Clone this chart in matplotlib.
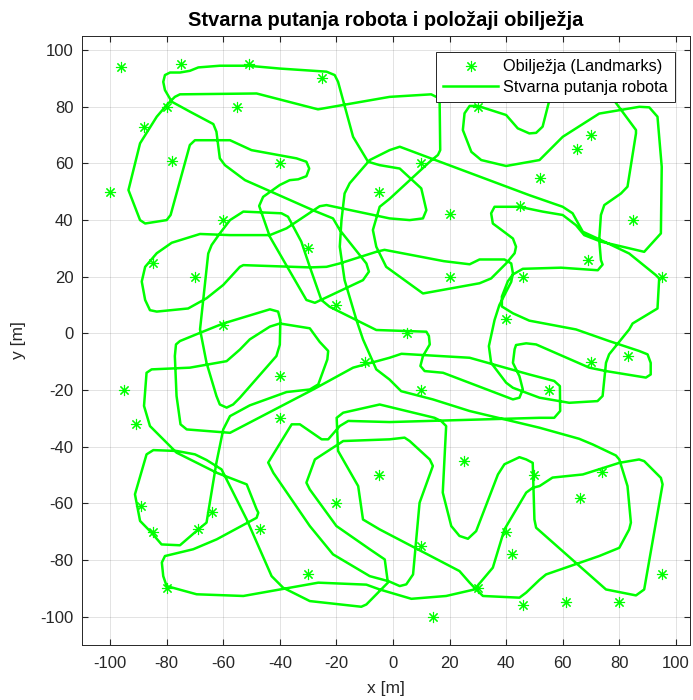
import matplotlib.pyplot as plt

plt.rcParams['font.family'] = ['Liberation Sans', 'DejaVu Sans']
plt.rcParams['axes.unicode_minus'] = False

# Landmarks (obilježja) [m]
landmark_x = [-96, -75, -51, -25, -80, -55, -88, -78, -40, -100, -60, -30, -85, -70, -20, -60,
              30, 70, 65, 10, 52, -5, 45, 20, 85, 69, 20, 46, 95, 40, 5,
              -10, -95, -40, -91, -40, -5, -89, -20, -64, -85, -69, -47, -30, -80,
              83, 70, 10, 55, 25, 50, 74, 66, 40, 10, 42, 95, 30, 46, 61, 80, 14]
landmark_y = [94, 95, 95, 90, 80, 80, 73, 61, 60, 50, 40, 30, 25, 20, 10, 3,
              80, 70, 65, 60, 55, 50, 45, 42, 40, 26, 20, 20, 20, 5, 0,
              -10, -20, -15, -32, -30, -50, -61, -60, -63, -70, -69, -69, -85, -90,
              -8, -10, -20, -20, -45, -50, -49, -58, -70, -75, -78, -85, -90, -96, -95, -95, -100]

# True robot path in travel order (x, y) [m]
path_north = [(57, 91), (55.3, 82.4), (52.9, 73), (50.6, 70.8), (48.2, 70.6), (44.1, 72.4), (40, 77.1),
              (30, 80.3), (27.1, 80.3), (25.3, 77.7), (24.7, 71.8), (27.7, 64.1), (31.2, 61.2), (40, 59.1),
              (51.8, 61.2), (60, 69.4), (72.9, 77.6), (87.1, 80), (90.6, 79.8), (93.5, 76.5), (95, 58.8),
              (94.7, 35.3), (88.8, 28.8), (73.5, 32.4), (67.6, 34.7), (64.7, 38.2), (60, 41.8), (52.9, 43),
              (44.7, 44.7), (35.9, 44.7), (34.7, 42.4), (35.3, 38.8), (37.6, 37.1), (42.4, 33.5),
              (43.5, 30.6), (43, 28.3), (40, 24.7), (34.7, 19.4), (30.6, 17.7), (10.6, 14.1), (-2.4, 23.5),
              (-5.9, 30.6), (-7.1, 36.5), (-4.7, 44.7), (-1.2, 47.5), (13, 60.6), (15.9, 63), (16.7, 64.7),
              (16.5, 81.2), (15.9, 83.2), (13.5, 84.4), (-1.2, 83.5), (-26.5, 79.1), (-48.2, 84.7)]

path_west = [(-75.3, 84.4), (-77.1, 83.5), (-80, 80.6), (-83.5, 76.5), (-89.4, 67.1), (-93.5, 50.6),
             (-91.2, 44.7), (-89.4, 40), (-87.6, 38.8), (-80, 40), (-78.6, 41.8), (-71.8, 66.5), (-70, 68.2),
             (-57.6, 68.2), (-50, 64.7), (-34.1, 61.8), (-30.6, 60.6), (-29.6, 58.2), (-30.6, 55.5),
             (-33.5, 54.4), (-36.5, 54.1), (-40, 52.4), (-45.9, 48.2), (-47.3, 45), (-43.5, 34.1),
             (-30.6, 11.8), (-27.6, 10.8), (-10.6, 18.8), (-8.5, 21.8), (-9.4, 24.7), (-18.8, 36.5),
             (-21.2, 40.6), (-27.6, 43.2), (-52.3, 54.1), (-59.4, 59.4), (-61.2, 61.8), (-62.4, 71.2),
             (-63.5, 73.9), (-71.8, 78.3), (-78.2, 81.8), (-80.6, 85.9), (-81.2, 88.8), (-80.6, 91.2),
             (-78.8, 92.1), (-75.3, 92.1), (-71.8, 92.7), (-68.8, 93.9), (-61.2, 94.5), (-51.2, 94.5),
             (-40, 93.5), (-23.5, 92.4), (-20.6, 91.2), (-19.4, 88.8), (-14.1, 69.4), (-8.8, 60.6),
             (-4.7, 59.4), (2.4, 58.2), (10, 51.2), (11.8, 43.5), (10.6, 40.6), (5.9, 40), (-1.2, 40.6),
             (-23.5, 45.3), (-25.9, 44.9), (-37.6, 37.1), (-43.5, 34.7), (-57.6, 34.7), (-68.2, 35.1),
             (-78.2, 32), (-83.5, 28.3), (-87.6, 23.5), (-88.8, 18.3), (-87.6, 11.8), (-85.9, 8.2),
             (-83.5, 7.7), (-72.4, 8.8), (-65.9, 12.4), (-60, 17.1), (-54.1, 23.5), (-52.9, 24.1),
             (-29.4, 23.3), (-23.5, 23.5), (-18.8, 24.7), (-5.9, 28.8), (-3, 29.5)]

path_east = [(18, 25.5), (27.1, 24.4), (30.6, 26.1), (39.4, 26.1), (41.8, 24.7), (42.4, 21.2), (41.8, 18.2),
             (37.6, 10), (35.9, 4.7), (33.9, -4.5), (34.7, -10.4), (40, -17.4), (42.4, -19.2), (51.8, -22.7),
             (62.3, -24.5), (72.3, -23.9), (74.1, -22.1), (75.3, -10.4), (76.4, -7.4), (83.5, 1.4),
             (84.7, 3.5), (93.5, 8.8), (94.1, 19.4), (92.9, 20.6), (83.5, 28.2), (74.7, 32.4), (67.1, 35.9),
             (63.5, 42.4), (60, 44.7), (48.2, 48.8), (2.4, 65.9), (-1.2, 64.7), (-8.2, 61.2), (-15.3, 53),
             (-17.1, 49.4), (-18.2, 40), (-18.8, 30.6), (-17.1, 18.8), (-12.9, 4.7), (-10.6, -2.1),
             (-5.9, -12.7), (-1.2, -16.3), (2.9, -20.4), (14.1, -23.3), (27.1, -27.4), (51.8, -33.3),
             (65.8, -37.2), (70.6, -39.2), (78.8, -43.1), (80, -44.5), (82.9, -53.9), (84.1, -66.8),
             (83.5, -69.2), (80, -75.7), (72.9, -78.6), (54.1, -85.1), (51.8, -87), (47.1, -91.5),
             (44.7, -93.3), (31.8, -92.7), (29.4, -90.4), (27.1, -88), (23.5, -83.9), (-4.7, -69.2),
             (-10.6, -65.7), (-12.3, -53.9), (-19.4, -41.5), (-19.9, -29.8), (-17.6, -28), (-4.7, -25.1),
             (14.7, -29.8), (17.1, -31), (18.8, -32.7), (17.6, -56.2), (20.6, -68), (23.5, -71.5),
             (26.5, -72.5), (29.4, -69.8), (37.1, -49.8), (39.4, -46.2), (44.7, -43.7), (47.1, -44.5),
             (49.4, -45.7), (50, -65.7), (50.6, -68.6), (75.3, -90.4), (85.9, -92.5), (88.8, -90.4),
             (95.3, -53.3), (94.7, -51), (88.8, -45.1), (87, -44.5), (80, -45.7), (67.1, -49.8),
             (56.4, -50.9), (51.8, -53.9), (49.4, -54.5), (47.1, -56.2), (39.4, -69.2), (35.3, -82.7),
             (28.8, -90.4), (18.8, -92.7), (6.5, -93.7), (-4.7, -90.4), (-9.4, -88.7), (-26.4, -88)]

path_south = [(-52.9, -92.7), (-69.4, -92.1), (-80, -89.2), (-81.2, -85.7), (-81.7, -80.9), (-80.6, -78.6),
              (-70.6, -76.2), (-62.3, -72.7), (-48.2, -65.1), (-47.6, -63.3), (-48.2, -62.1), (-51.7, -53.3),
              (-62.3, -49.2), (-76.5, -42.1), (-85.9, -32.7), (-88, -25.6), (-87.1, -13.9), (-85.3, -12.7),
              (-71.8, -12.1), (-58.8, -9.8), (-54.1, -5.7), (-50.6, -2.1), (-43.5, 2.4), (-40, 3.5),
              (-29.4, 1.8), (-25.9, -3), (-22.9, -6.2), (-23.2, -9.2), (-26.4, -18), (-29.4, -19.8),
              (-37.6, -20.7), (-50.6, -25.4), (-57.6, -29.2), (-60, -33.9), (-62.4, -45.6), (-65.9, -66.8),
              (-68.8, -69.2), (-75.3, -74.8), (-81.8, -74.5), (-85.3, -70.4), (-89.4, -66.2), (-91.2, -56.8),
              (-87.1, -42.7), (-84.7, -41.2), (-76.5, -41.5), (-70, -42.7), (-65.9, -44.7), (-60.6, -48),
              (-51.7, -65.7), (-42.9, -85.7), (-38.8, -89.8), (-29.4, -94.5), (-11.2, -96.5), (-9.4, -95.7),
              (-1.8, -88), (-2.9, -79.8), (-8.2, -76.2), (-20, -68), (-29.4, -55.1), (-30.6, -52.7),
              (-27.6, -44.5), (-17.6, -38), (-1.2, -37.4), (4.1, -36.8), (5.9, -38), (13, -44.5),
              (14.1, -46.8), (9.4, -59.8), (7.1, -85.1), (4.7, -88.6), (2.4, -89.2), (-1.5, -87.5),
              (-8.2, -85.7), (-21.2, -78), (-29.4, -68), (-42.3, -49.2), (-43.5, -46.8), (-44.1, -45.6),
              (-35.8, -32.1), (-32.9, -32.1), (-25.2, -37.4), (-22.9, -37.4), (-18.8, -32.7), (-15.8, -30.9),
              (-1.2, -31.3), (51.8, -29.8), (57, -29.8), (59.1, -27.4), (59, -18.6), (57, -16.8),
              (48.2, -14.5), (27.1, -8.6), (3, -7.2), (-1.2, -8.6), (-14.1, -12.1), (-28.2, -19.8),
              (-57.6, -35.1), (-72.9, -33.9), (-75.1, -32.1), (-76.5, -22.1), (-77.1, -8), (-76.7, -3.9),
              (-75.3, -2.7), (-68.2, 0.2), (-60, 3.5)]

path_centre = [(-43.5, 8.5), (-40.6, 7.7), (-39.8, 4.7), (-40, -4), (-41.2, -8), (-54.1, -22.7),
               (-56.5, -25.1), (-58.8, -26.2), (-61.2, -25.1), (-62.4, -22.1), (-65.9, -10.4), (-68.2, 1.4),
               (-65.3, 28.2), (-64.1, 31.2), (-61.2, 35.3), (-57.6, 40), (-52.9, 43), (-39.4, 42.4),
               (-37.1, 41.2), (-32.4, 32.4), (-29.4, 23.5), (-25.3, 11.8), (-22.4, 9.4), (-5.9, 1.2),
               (11.8, 0.6), (12.7, -0.9), (13, -3.9), (10.6, -8), (9.7, -11.5), (11.2, -13.3), (17.7, -13.9),
               (42.4, -23.3), (44.7, -22.7), (45.9, -19.8), (44.7, -15.1), (42.4, -10.4), (43, -5.6),
               (43.5, -4.1), (47.1, -3.5), (50.6, -3.9), (69.4, -12.1), (75.3, -13.3), (89.4, -15.6),
               (91.1, -14.5), (91.1, -10.4), (90, -7.4), (87, -6.2), (76.4, -2.7), (64.7, 1.4), (48.2, 4.5),
               (42.4, 7.1), (38.5, 9.5), (38.5, 13), (40.6, 18.4), (42.4, 20.8), (45.9, 22.8), (59.4, 23.2),
               (72.4, 22.3), (74.1, 24.3), (73.5, 25.9), (72.9, 33), (73.5, 41.8), (74.7, 45.3), (80.6, 49.4),
               (82.9, 51.8), (85.9, 70.6), (85.9, 71.8), (77.6, 83), (73, 91)]

path = path_north + path_west + path_east + path_south + path_centre
path_x = [p[0] for p in path]
path_y = [p[1] for p in path]

GREEN = (0, 1, 0)
DARK = (0.15, 0.15, 0.15)

fig = plt.figure(figsize=(6.93, 7.0), dpi=100)
ax = fig.add_axes([0.118, 0.0786, 0.8777, 0.87])

ax.plot(landmark_x, landmark_y, linestyle='none', marker=(8, 2, 0), markersize=8,
        markeredgewidth=0.8, color=GREEN, label='Obilježja (Landmarks)')
ax.plot(path_x, path_y, color=GREEN, linewidth=1.8, solid_joinstyle='round',
        label='Stvarna putanja robota')

ax.set_xlim(-110, 105)
ax.set_ylim(-110, 105)
ax.set_xticks(range(-100, 101, 20))
ax.set_yticks(range(-100, 101, 20))
ax.grid(True, color=DARK, alpha=0.15, linewidth=0.6)
ax.set_axisbelow(True)
ax.tick_params(direction='in', length=4, top=True, right=True, labelsize=12,
               colors=DARK, pad=6)
ax.tick_params(axis='x', pad=8)
for s in ax.spines.values():
    s.set_color(DARK)
    s.set_linewidth(0.7)

ax.set_title('Stvarna putanja robota i položaji obilježja', fontsize=14.5,
             fontweight='bold', pad=7)
ax.set_xlabel('x [m]', fontsize=12.5, color=DARK, labelpad=7)
ax.set_ylabel('y [m]', fontsize=12.5, color=DARK, labelpad=10)

leg = ax.legend(loc='upper right', bbox_to_anchor=(0.9755, 0.9737), borderaxespad=0,
                fontsize=11.7, handlelength=3.4, handletextpad=0.3, fancybox=False,
                framealpha=1, edgecolor=DARK, borderpad=0.45, labelspacing=0.35)
leg.get_frame().set_linewidth(0.7)

fig.savefig('out.png', dpi=100)
